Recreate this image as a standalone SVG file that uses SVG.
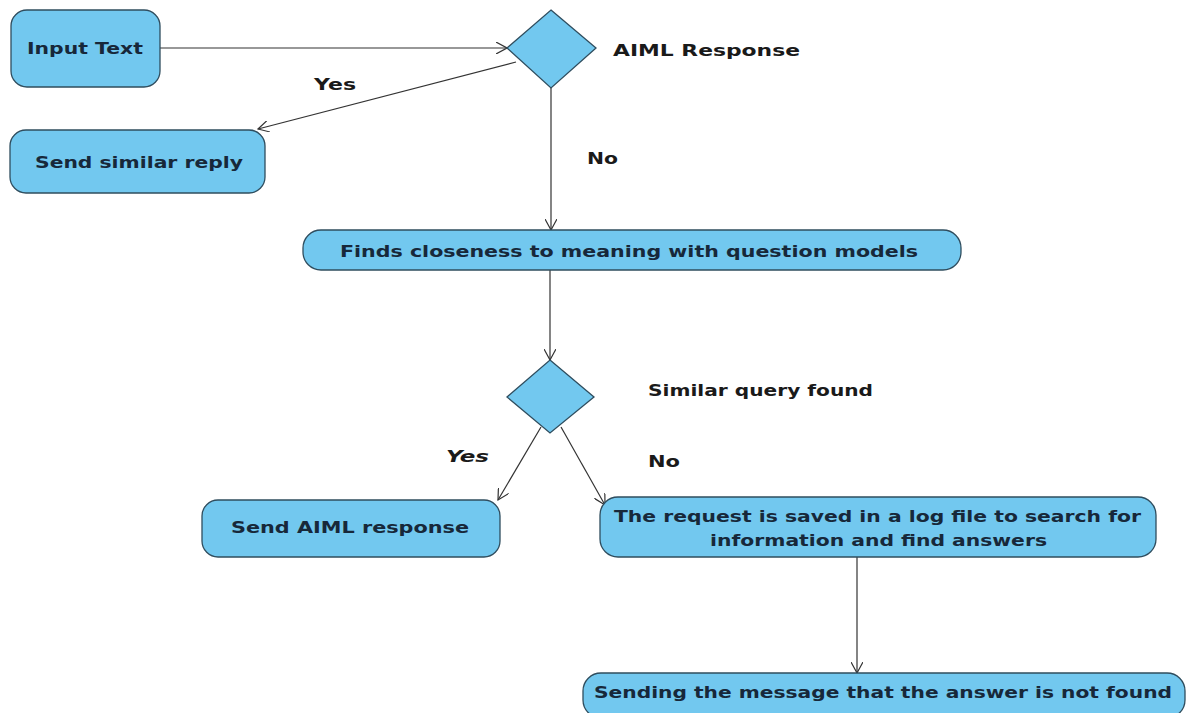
<svg xmlns="http://www.w3.org/2000/svg" width="1189" height="713" viewBox="0 0 1189 713">
<defs>
<marker id="arr" viewBox="0 0 12 12" refX="11" refY="6" markerWidth="12" markerHeight="12" markerUnits="userSpaceOnUse" orient="auto">
<path d="M0,0 L11,6 L0,12" fill="none" stroke="#333" stroke-width="1.2"/>
</marker>
<style>
.box{fill:#72c8ef;stroke:#2f4d5e;stroke-width:1.3}
.t{font-family:"DejaVu Sans","Liberation Sans",sans-serif;font-weight:bold;font-size:16px;fill:#17283a}
.c{text-anchor:middle}
.lbl{font-family:"DejaVu Sans","Liberation Sans",sans-serif;font-weight:bold;font-size:16px;fill:#1a1a1a}
.e{fill:none;stroke:#333;stroke-width:1.2;marker-end:url(#arr)}
.l{fill:none;stroke:#333;stroke-width:1.2}
</style>
</defs>
<rect width="1189" height="713" fill="#ffffff"/>
<g id="connectors">
<line class="e" x1="160" y1="48" x2="507" y2="48"/>
<line class="e" x1="516" y1="62" x2="258" y2="129"/>
<line class="e" x1="551" y1="88" x2="551" y2="230"/>
<line class="e" x1="550" y1="270" x2="550" y2="360"/>
<line class="e" x1="541" y1="427" x2="498" y2="500"/>
<line class="e" x1="561" y1="427" x2="605" y2="505"/>
<line class="e" x1="857" y1="557" x2="857" y2="673"/>
<text class="lbl c" x="335" y="90" textLength="42" lengthAdjust="spacingAndGlyphs">Yes</text>
<text class="lbl" x="587" y="164" textLength="31" lengthAdjust="spacingAndGlyphs">No</text>
<text class="lbl" x="446" y="462" font-style="italic" font-weight="normal" textLength="43" lengthAdjust="spacingAndGlyphs">Yes</text>
<text class="lbl" x="648" y="467" font-weight="normal" textLength="32" lengthAdjust="spacingAndGlyphs">No</text>
</g>
<g id="input-text">
<rect class="box" x="11" y="10" width="149" height="77" rx="16"/>
<text class="t" x="27" y="54" textLength="116" lengthAdjust="spacingAndGlyphs">Input Text</text>
</g>
<g id="aiml-decision">
<polygon class="box" points="551,10 596,48 551,88 507,48"/>
<text class="lbl" x="613" y="56" textLength="187" lengthAdjust="spacingAndGlyphs">AIML Response</text>
</g>
<g id="send-similar-reply">
<rect class="box" x="10" y="130" width="255" height="63" rx="16"/>
<text class="t" x="35" y="168" textLength="208" lengthAdjust="spacingAndGlyphs">Send similar reply</text>
</g>
<g id="finds-closeness">
<rect class="box" x="303" y="230" width="658" height="40" rx="18"/>
<text class="t" x="340" y="257" textLength="578" lengthAdjust="spacingAndGlyphs">Finds closeness to meaning with question models</text>
</g>
<g id="similar-decision">
<polygon class="box" points="550,360 594,397 550,433 507,397"/>
<text class="lbl" x="648" y="396" textLength="225" lengthAdjust="spacingAndGlyphs">Similar query found</text>
</g>
<g id="send-aiml-response">
<rect class="box" x="202" y="500" width="298" height="57" rx="16"/>
<text class="t" x="231" y="533" textLength="238" lengthAdjust="spacingAndGlyphs">Send AIML response</text>
</g>
<g id="request-saved">
<rect class="box" x="600" y="497" width="556" height="60" rx="18"/>
<text class="t" x="614" y="522" textLength="527" lengthAdjust="spacingAndGlyphs">The request is saved in a log file to search for</text>
<text class="t" x="710" y="546" textLength="337" lengthAdjust="spacingAndGlyphs">information and find answers</text>
</g>
<g id="sending-not-found">
<rect class="box" x="583" y="673" width="602" height="45" rx="18"/>
<text class="t" x="594" y="698" textLength="578" lengthAdjust="spacingAndGlyphs">Sending the message that the answer is not found</text>
</g>
</svg>
